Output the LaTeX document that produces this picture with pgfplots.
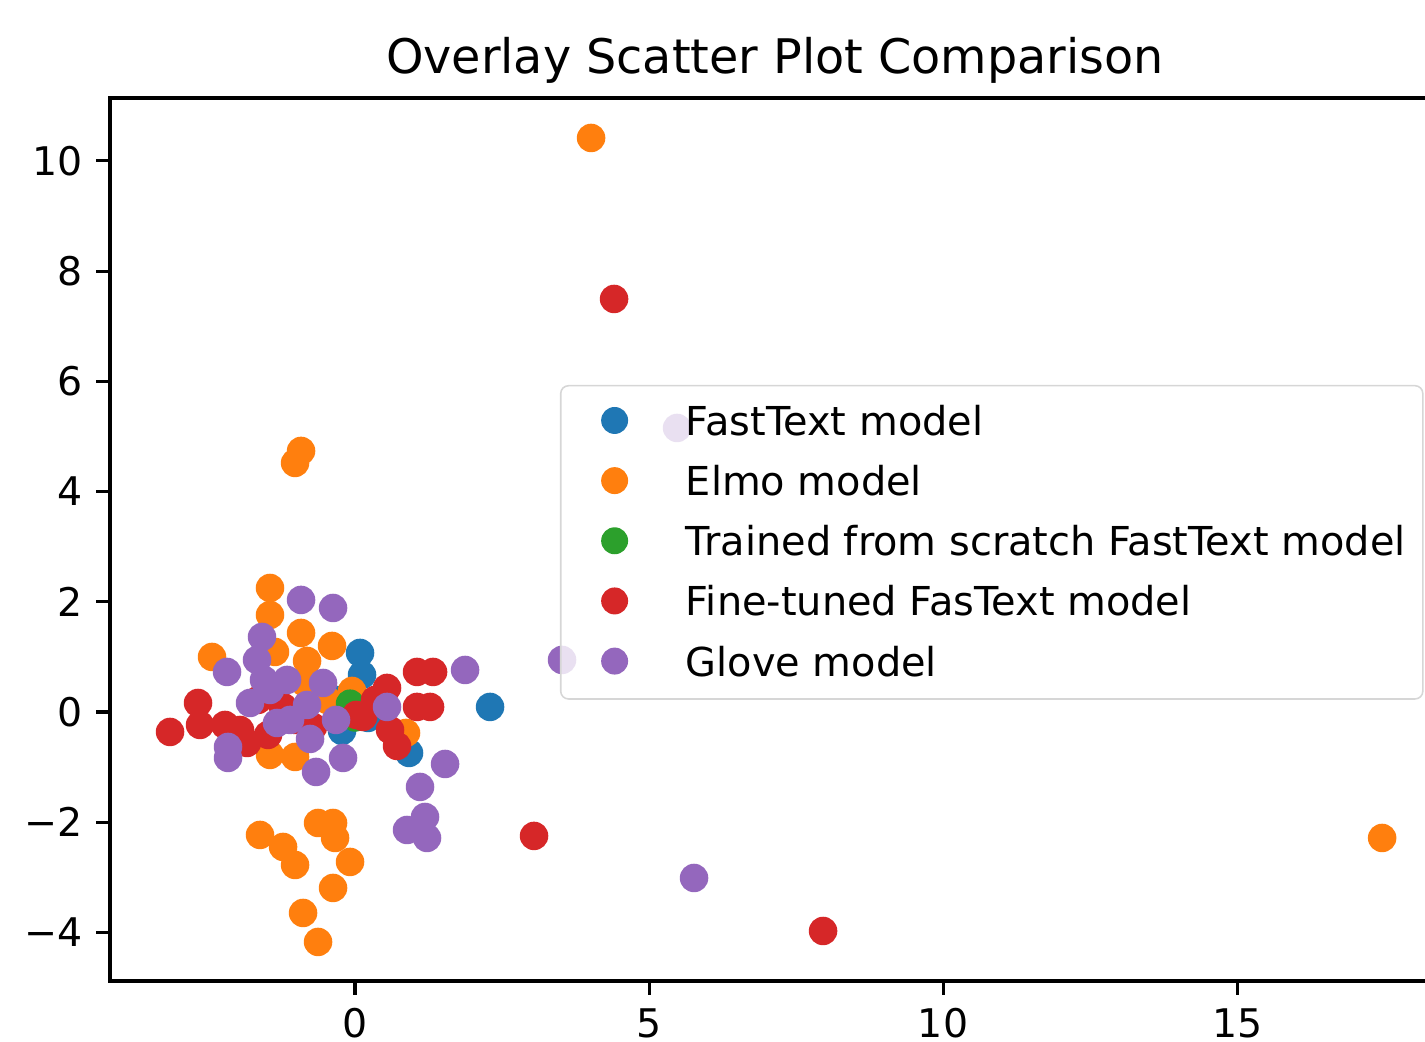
\documentclass[border=0pt]{standalone}
\usepackage{fontspec}
\setmainfont{DejaVu Sans}
\usepackage{pgfplots}
\pgfplotsset{compat=1.18}
\definecolor{tabblue}{HTML}{1F77B4}
\definecolor{taborange}{HTML}{FF7F0E}
\definecolor{tabgreen}{HTML}{2CA02C}
\definecolor{tabred}{HTML}{D62728}
\definecolor{tabpurple}{HTML}{9467BD}
\pgfplotsset{
  dot/.style={only marks, mark=*, mark size=3.45pt, color=#1, mark options={draw=none, fill=#1},
    legend image code/.code={\path[draw=none,fill=none] (-9.4pt,-6.9pt) rectangle (3.4pt,7.5pt);
      \fill[#1, fill opacity=1, draw=none] (0pt,0.7pt) circle (3.45pt);}},
}
\begin{document}
\begin{tikzpicture}
\begin{axis}[
  scale only axis, width=340.48pt, height=226.05pt,
  xmin=-4.167, xmax=18.45, ymin=-4.882, ymax=11.143,
  xtick={0,5,10,15}, xticklabels={0,5,10,15},
  ytick={-4,-2,0,2,4,6,8,10},
  yticklabels={−4,−2,0,2,4,6,8,10},
  tick align=outside, major tick length=3.5pt,
  xtick pos=bottom, ytick pos=left,
  tick style={line width=0.8pt, black},
  axis line style={line width=0.8pt},
  ticklabel style={font=\fontsize{10.1}{12}\selectfont},
  title={Overlay Scatter Plot Comparison},
  every axis title shift=0pt,
  title style={at={(0.5,1)}, anchor=base, yshift=6.2pt, inner sep=0pt, font=\fontsize{12.2}{14}\selectfont},
  legend cell align=left,
  legend style={at={(0.3383,0.675)}, anchor=north west, draw=black!16, rounded corners=2pt,
    fill=white, fill opacity=0.8, text opacity=1, draw opacity=1,
    inner xsep=4.4pt, inner ysep=2.1pt, row sep=1.0pt, column sep=14.8pt,
    nodes={inner sep=0pt},
    font=\fontsize{10.2}{12}\selectfont},
]
\coordinate (sw) at (rel axis cs:0,0);
% FastText model
\addplot[dot=tabblue] coordinates {
(0.085,1.071) (0.119,0.672) (-0.221,-0.345) (0.918,-0.744) (2.296,0.091)
(-0.340,0.218) (-0.085,0.0) (0.221,-0.109) (-0.255,-0.054)
};
\addlegendentry{FastText model}
% Elmo model
\addplot[dot=taborange] coordinates {
(4.014,10.417) (-0.918,4.737) (-1.020,4.519) (-1.446,2.250) (-1.446,1.760)
(-0.918,1.434) (-0.391,1.198) (-1.361,1.089) (-2.432,0.998) (-0.816,0.926)
(-0.051,0.381) (-0.850,0.526) (-0.476,0.218) (-1.446,-0.780) (-1.020,-0.817)
(0.867,-0.381) (-1.616,-2.232) (-1.224,-2.450) (-1.020,-2.777) (-0.629,-2.015)
(-0.374,-2.015) (-0.340,-2.287) (-0.085,-2.722) (-0.374,-3.194) (-0.884,-3.648)
(-0.629,-4.174) (17.466,-2.287)
};
\addlegendentry{Elmo model}
% Trained from scratch
\addplot[dot=tabgreen] coordinates {
(-0.085,0.15) (0.05,-0.05) (0.10,0.0) (0.0,-0.10) (0.12,-0.08)
};
\addlegendentry{Trained from scratch FastText model}
% Fine-tuned
\addplot[dot=tabred] coordinates {
(4.405,7.495) (3.044,-2.250) (7.959,-3.975) (-3.146,-0.363) (-2.670,0.163)
(-2.636,-0.236) (-2.211,-0.236) (-1.837,-0.563) (-1.650,0.218) (-1.224,0.091)
(-1.020,-0.145) (-0.714,-0.272) (-1.956,-0.327) (0.136,-0.091) (0.340,0.218)
(0.544,0.436) (0.595,-0.327) (0.714,-0.617) (1.054,0.726) (1.327,0.726)
(1.054,0.091) (1.276,0.091) (-1.480,-0.417) (0.02,-0.054)
};
\addlegendentry{Fine-tuned FasText model}
% Glove
\addplot[dot=tabpurple] coordinates {
(5.476,5.154) (3.520,0.944) (5.765,-3.013) (-0.918,2.033) (-0.374,1.887)
(-1.582,1.361) (-1.667,0.944) (-2.177,0.726) (-1.156,0.581) (-0.544,0.526)
(-1.786,0.163) (-0.816,0.127) (-1.327,-0.200) (-0.323,-0.145) (-0.765,-0.490)
(-2.160,-0.635) (-2.160,-0.835) (-0.663,-1.089) (-0.204,-0.835) (0.544,0.091)
(1.871,0.762) (1.531,-0.944) (1.105,-1.361) (1.190,-1.906) (0.884,-2.142)
(1.224,-2.287) (-1.446,0.399) (-1.105,-0.145) (-1.548,0.581)
};
\addlegendentry{Glove model}
\end{axis}
\pgfresetboundingbox
\path[use as bounding box] (sw) ++(-28.16pt,-15.62pt) rectangle ++(364.8pt,266.75pt);
\end{tikzpicture}
\end{document}
